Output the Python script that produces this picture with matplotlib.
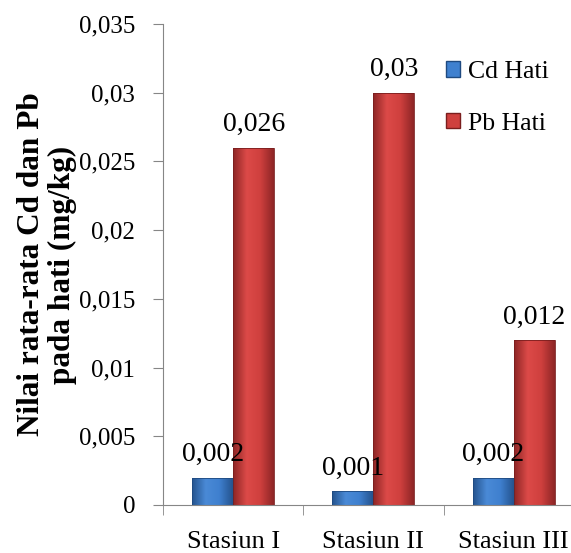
import numpy as np
import matplotlib.pyplot as plt
from matplotlib.patches import Patch
from matplotlib.colors import LinearSegmentedColormap

stations = ["Stasiun I", "Stasiun II", "Stasiun III"]
cd_hati = [0.002, 0.001, 0.002]
pb_hati = [0.026, 0.03, 0.012]
cd_labels = ["0,002", "0,001", "0,002"]
pb_labels = ["0,026", "0,03", "0,012"]
yticks = [0, 0.005, 0.01, 0.015, 0.02, 0.025, 0.03, 0.035]
ytick_labels = ["0", "0,005", "0,01", "0,015", "0,02", "0,025", "0,03", "0,035"]

plt.rcParams['font.family'] = ['Liberation Serif', 'DejaVu Serif']

fig = plt.figure(figsize=(5.71, 5.53), dpi=100)
# the plot area runs past the right edge of the picture, like the cropped original
ax = fig.add_axes([0.2855, 0.0868, 0.737, 0.8698])

blue_cm = LinearSegmentedColormap.from_list("b", ["#25548f", "#4a8ad6", "#3f80cf", "#25548f"])
red_cm = LinearSegmentedColormap.from_list("r", ["#8e2626", "#dc4a48", "#cf403e", "#8e2626"])


def shaded_bars(x, heights, width, cmap, edge):
    bars = ax.bar(x, heights, width, color="none", edgecolor=edge, linewidth=0.6, zorder=3)
    grad = np.linspace(0, 1, 64).reshape(1, -1)
    for b in bars:
        x0, y0 = b.get_x(), b.get_y()
        w, h = b.get_width(), b.get_height()
        im = ax.imshow(grad, cmap=cmap, aspect="auto", extent=[x0, x0 + w, y0, y0 + h],
                       zorder=2, interpolation="bicubic")
        im.set_clip_path(b)
    return bars


x = np.arange(len(stations))
w = 0.292
cd_bars = shaded_bars(x - w / 2, cd_hati, w, blue_cm, "#1f4a80")
pb_bars = shaded_bars(x + w / 2, pb_hati, w, red_cm, "#7a1e1e")

for bars, labels in [(cd_bars, cd_labels), (pb_bars, pb_labels)]:
    for b, lab in zip(bars, labels):
        ax.annotate(lab, (b.get_x() + b.get_width() / 2, b.get_height()), xytext=(0, 12),
                    textcoords="offset points", ha="center", va="baseline",
                    fontsize=20, zorder=5)

ax.set_xlim(-0.5, 2.5)
ax.set_ylim(0, 0.035)
ax.set_yticks(yticks)
ax.set_yticklabels(ytick_labels, fontsize=18)
ax.set_xticks(x)
ax.set_xticklabels(stations, fontsize=19)
ax.set_xticks([-0.5, 0.5, 1.5, 2.5], minor=True)
ax.tick_params(axis="x", which="major", length=0, pad=18.5)
ax.tick_params(axis="x", which="minor", length=7, color="#868686")
ax.tick_params(axis="y", length=7, color="#868686", pad=13)

for s in ["top", "right"]:
    ax.spines[s].set_visible(False)
ax.spines["left"].set_color("#868686")
ax.spines["bottom"].set_color("#868686")

ax.set_ylabel("Nilai rata-rata Cd dan Pb\npada hati (mg/kg)", fontsize=22.5,
              fontweight="bold", labelpad=1, linespacing=1.1)

handles = [Patch(facecolor="#3f80cf", edgecolor="#1f4a80", label="Cd Hati"),
           Patch(facecolor="#cf403e", edgecolor="#7a1e1e", label="Pb Hati")]
fig.legend(handles=handles, loc="upper left", bbox_to_anchor=(446 / 571, 1 - 61 / 553),
           frameon=False, fontsize=18.5, handlelength=0.55, handleheight=0.55,
           handletextpad=0.3, labelspacing=1.15, borderpad=0, borderaxespad=0)

fig.savefig("out.png", dpi=100)
